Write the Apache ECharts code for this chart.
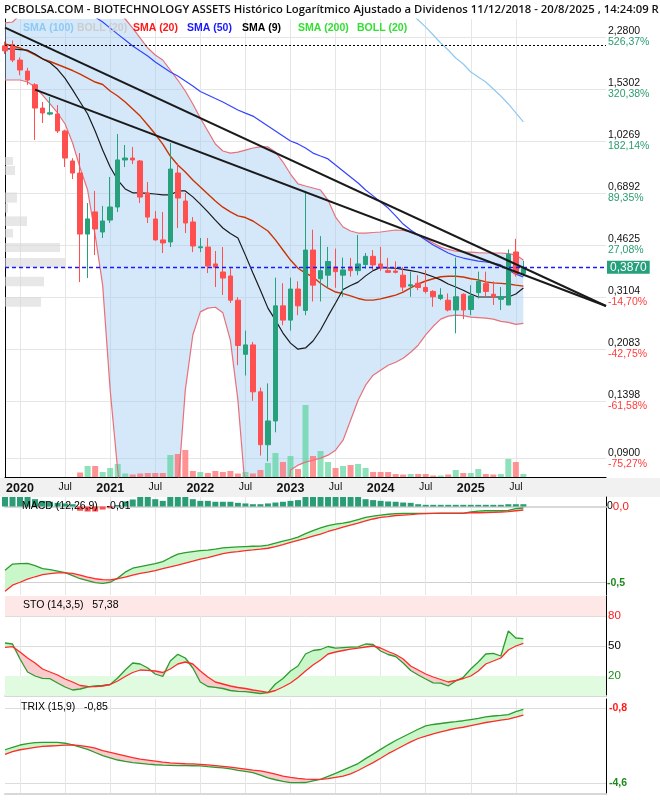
<!DOCTYPE html>
<html>
<head>
<meta charset="utf-8">
<script src="https://cdn.jsdelivr.net/npm/echarts@6.0.0/dist/echarts.min.js"></script>
<style>
html,body{margin:0;padding:0;background:#ffffff;}
#chart{width:660px;height:800px;}
</style>
</head>
<body>
<div id="chart"></div>
<script>
// ---------- categories (monthly) ----------
const months = [];
(function () { let y = 2019, m = 11; while (months.length < 81) { months.push(y + '-' + (m < 10 ? '0' : '') + m); m++; if (m > 12) { m = 1; y++; } } })();
const lastDataIndex = 69;

// ---------- price axis ticks ----------
const priceTicks = [2.28, 1.5302, 1.0269, 0.6892, 0.4625, 0.3104, 0.2083, 0.1398, 0.09];
const priceTickLabels = ['2,2800', '1,5302', '1,0269', '0,6892', '0,4625', '0,3104', '0,2083', '0,1398', '0,0900'];
const pctTickLabels = ['526,37%', '320,38%', '182,14%', '89,35%', '27,08%', '-14,70%', '-42,75%', '-61,58%', '-75,27%'];
const lastPrice = 0.387, lastPriceLabel = '0,3870';
const refLevel = 2.136;

// ---------- candles (2019-11 .. 2025-08) ----------
const open = [2.13, 2.15, 1.91, 1.755, 1.58, 1.322, 1.262, 1.263, 1.109, 0.881,
  0.803, 0.503, 0.596, 0.511, 0.56, 0.619, 0.888, 0.901, 0.881, 0.689,
  0.5646, 0.481, 0.4733, 0.803, 0.648, 0.5517, 0.453, 0.4554, 0.40, 0.376,
  0.3647, 0.303, 0.20, 0.215, 0.15, 0.10, 0.12, 0.29, 0.26, 0.33,
  0.28, 0.445, 0.357, 0.367, 0.391, 0.367, 0.391, 0.380, 0.398, 0.424,
  0.400, 0.380, 0.379, 0.367, 0.338, 0.345, 0.334, 0.324, 0.307, 0.303,
  0.281, 0.317, 0.282, 0.321, 0.344, 0.317, 0.305, 0.292, 0.4385, 0.372];
const close = [2.05, 1.91, 1.77, 1.639, 1.322, 1.273, 1.275, 1.109, 0.901, 0.803,
  0.503, 0.565, 0.523, 0.556, 0.619, 0.888, 0.901, 0.888, 0.668, 0.573,
  0.481, 0.470, 0.828, 0.663, 0.5475, 0.459, 0.456, 0.3936, 0.39, 0.359,
  0.303, 0.214, 0.215, 0.15, 0.10, 0.12, 0.29, 0.26, 0.33, 0.29,
  0.445, 0.34, 0.38, 0.4075, 0.377, 0.382, 0.380, 0.400, 0.424, 0.397,
  0.387, 0.375, 0.375, 0.335, 0.341, 0.334, 0.324, 0.311, 0.315, 0.281,
  0.311, 0.281, 0.313, 0.350, 0.324, 0.311, 0.311, 0.431, 0.3705, 0.387];
const low = [2.0, 1.88, 1.70, 1.58, 1.035, 1.179, 1.25, 1.092, 0.841, 0.767,
  0.348, 0.359, 0.428, 0.488, 0.5475, 0.596, 0.841, 0.861, 0.638, 0.5475,
  0.478, 0.435, 0.4554, 0.527, 0.507, 0.438, 0.438, 0.373, 0.335, 0.3152,
  0.2965, 0.184, 0.17, 0.14, 0.092, 0.088, 0.11, 0.25, 0.24, 0.27,
  0.27, 0.30, 0.30, 0.333, 0.333, 0.311, 0.363, 0.367, 0.386, 0.382,
  0.379, 0.373, 0.372, 0.324, 0.311, 0.327, 0.319, 0.288, 0.303, 0.278,
  0.235, 0.262, 0.270, 0.307, 0.311, 0.292, 0.281, 0.292, 0.363, 0.365];
const high = [2.2, 2.22, 1.95, 1.80, 1.60, 1.385, 1.439, 1.353, 1.12, 0.90,
  0.936, 0.638, 0.700, 0.624, 0.779, 1.083, 0.996, 0.981, 0.888, 0.750,
  0.600, 0.596, 1.011, 0.867, 0.689, 0.573, 0.488, 0.488, 0.4417, 0.4554,
  0.387, 0.31, 0.24, 0.22, 0.155, 0.16, 0.36, 0.345, 0.36, 0.35,
  0.70, 0.52, 0.495, 0.456, 0.45, 0.42, 0.419, 0.499, 0.435, 0.445,
  0.456, 0.419, 0.408, 0.391, 0.377, 0.367, 0.382, 0.327, 0.332, 0.319,
  0.42, 0.319, 0.340, 0.377, 0.377, 0.35, 0.335, 0.447, 0.485, 0.41];
const volume = [null, null, null, null, null, null, null, null, null, null,
  4.5, 11, 11, 5, 9, 13, 3.5, 2.5, 3.5, 4,
  4, 4, 22, 23, 27, 6, 5, 4, 6, 5,
  6, 3.5, 5, 3.5, 7, 14, 24, 15, 21, 8,
  72, 21, 26, 15, 9, 11, 12, 13, 9, 5,
  5, 5, 3, 2.5, 3, 3, 3, 1.5, 1.5, 2.5,
  7, 4, 4, 8, 3, 2.5, 3, 18, 15, 3];

// ---------- overlays ----------
const sma9 = [2.08, 2.08, 2.07, 2.06, 2.00, 1.93, 1.87, 1.78, 1.66, 1.52,
  1.385, 1.263, 1.109, 0.958, 0.841, 0.761, 0.711, 0.690, 0.690, 0.687,
  0.684, 0.679, 0.679, 0.700, 0.700, 0.669, 0.633, 0.596, 0.560, 0.527,
  0.505, 0.488, 0.428, 0.373, 0.327, 0.285, 0.260, 0.2355, 0.218, 0.208,
  0.210, 0.2215, 0.241, 0.268, 0.2965, 0.329, 0.339, 0.348, 0.365, 0.380,
  0.3895, 0.388, 0.387, 0.3835, 0.380, 0.376, 0.370, 0.3625, 0.354, 0.343,
  0.335, 0.327, 0.3175, 0.3104, 0.3104, 0.3104, 0.3104, 0.3104, 0.3175, 0.3326];
const sma20 = [2.16, 2.127, 2.096, 2.047, 1.986, 1.926, 1.889, 1.846, 1.804, 1.763,
  1.716, 1.664, 1.614, 1.584, 1.507, 1.450, 1.385, 1.312, 1.243, 1.161,
  1.083, 1.003, 0.915, 0.854, 0.810, 0.761, 0.722, 0.684, 0.648, 0.618,
  0.596, 0.578, 0.571, 0.556, 0.535, 0.515, 0.481, 0.445, 0.412, 0.387,
  0.373, 0.362, 0.345, 0.332, 0.3225, 0.3185, 0.313, 0.307, 0.303, 0.303,
  0.306, 0.3104, 0.315, 0.3225, 0.333, 0.343, 0.351, 0.357, 0.3625, 0.364,
  0.364, 0.362, 0.357, 0.354, 0.3485, 0.346, 0.3445, 0.343, 0.340, 0.3375];
const sma50 = [4.62, 4.41, 4.21, 4.02, 3.84, 3.67, 3.50, 3.35, 3.19, 3.05,
  2.914, 2.78, 2.657, 2.556, 2.44, 2.33, 2.228, 2.128, 2.047, 1.970,
  1.882, 1.811, 1.743, 1.690, 1.626, 1.565, 1.500, 1.461, 1.422, 1.385,
  1.343, 1.302, 1.272, 1.243, 1.197, 1.152, 1.109, 1.067, 1.027, 1.004,
  0.973, 0.936, 0.915, 0.895, 0.854, 0.816, 0.779, 0.744, 0.705, 0.674,
  0.643, 0.614, 0.578, 0.543, 0.519, 0.499, 0.481, 0.4625, 0.4485, 0.435,
  0.425, 0.4185, 0.4136, 0.409, 0.406, 0.403, 0.397, 0.382, 0.370, 0.362];
const sma100 = [null, null, null, null, null, null, null, null, null, null,
  null, null, null, null, null, null, null, null, null, null,
  null, null, null, null, null, null, null, null, null, null,
  null, null, null, null, null, null, null, null, null, null,
  null, null, null, null, null, null, null, null, null, null,
  null, null, null, 2.89, 2.74, 2.597, 2.46, 2.315, 2.177, 2.063,
  1.94, 1.853, 1.743, 1.677, 1.614, 1.53, 1.45, 1.364, 1.273, 1.188];
const bbUpper = [2.54, 2.557, 2.70, 2.80, 2.91, 3.03, 3.15, 3.22, 3.27, 3.27,
  3.22, 3.15, 3.08, 2.98, 2.89, 2.76, 2.617, 2.44, 2.26, 2.095,
  1.986, 1.911, 1.770, 1.639, 1.507, 1.364, 1.225, 1.109, 1.003, 0.951,
  0.936, 0.943, 0.958, 0.973, 0.981, 0.981, 0.943, 0.874, 0.797, 0.739,
  0.727, 0.716, 0.705, 0.653, 0.573, 0.531, 0.515, 0.507, 0.507, 0.509,
  0.511, 0.515, 0.519, 0.517, 0.511, 0.499, 0.485, 0.470, 0.455, 0.447,
  0.441, 0.439, 0.438, 0.436, 0.435, 0.435, 0.435, 0.433, 0.428, 0.412];
const bbLower = [1.639, 1.639, 1.639, 1.614, 1.554, 1.461, 1.364, 1.273, 1.170, 1.011,
  0.835, 0.705, 0.499, 0.340, 0.152, 0.0823, 0.052, 0.04, 0.035, 0.03,
  0.03, 0.035, 0.045, 0.07, 0.152, 0.232, 0.277, 0.285, 0.287, 0.275,
  0.223, 0.141, 0.07, 0.04, 0.03, 0.025, 0.03, 0.04, 0.0823, 0.0855,
  0.0875, 0.0888, 0.0902, 0.0923, 0.0959, 0.1035, 0.1207, 0.1407, 0.1578, 0.1704,
  0.1771, 0.184, 0.1883, 0.194, 0.2033, 0.2145, 0.232, 0.248, 0.262, 0.268,
  0.270, 0.269, 0.266, 0.265, 0.264, 0.262, 0.2575, 0.2555, 0.2515, 0.2535];

// trend lines: [start month, start price, end month, end price]
const trendLines = [['2019-11', 2.45, '2026-07', 0.2897], ['2020-03', 1.523, '2026-07', 0.2897]];

// volume at price (left profile)
const vpLow = [0.854, 0.791, 0.640, 0.593, 0.535, 0.490, 0.438, 0.389, 0.337, 0.288];
const vpHigh = [0.908, 0.848, 0.692, 0.636, 0.576, 0.523, 0.470, 0.419, 0.3625, 0.3104];
const vpVol = [8, 10, 12, 3, 22, 8, 55, 60, 39, 36];

// ---------- MACD ----------
const macd = [-0.418, -0.378, -0.375, -0.374, -0.388, -0.407, -0.414, -0.424, -0.434, -0.454,
  -0.474, -0.487, -0.500, -0.505, -0.497, -0.470, -0.431, -0.405, -0.395, -0.385,
  -0.375, -0.362, -0.336, -0.313, -0.303, -0.296, -0.289, -0.286, -0.280, -0.271,
  -0.268, -0.265, -0.263, -0.261, -0.260, -0.253, -0.240, -0.227, -0.216, -0.201,
  -0.178, -0.158, -0.141, -0.125, -0.115, -0.109, -0.100, -0.086, -0.072, -0.063,
  -0.056, -0.051, -0.047, -0.045, -0.045, -0.045, -0.045, -0.045, -0.045, -0.045,
  -0.045, -0.045, -0.036, -0.030, -0.028, -0.028, -0.028, -0.026, -0.014, -0.010];
const macdSignal = [-0.556, -0.516, -0.497, -0.477, -0.461, -0.447, -0.441, -0.436, -0.436, -0.439,
  -0.451, -0.464, -0.474, -0.480, -0.482, -0.474, -0.464, -0.451, -0.439, -0.431,
  -0.421, -0.408, -0.396, -0.385, -0.372, -0.359, -0.345, -0.336, -0.322, -0.309,
  -0.301, -0.296, -0.289, -0.285, -0.280, -0.274, -0.263, -0.250, -0.235, -0.222,
  -0.209, -0.194, -0.181, -0.164, -0.150, -0.135, -0.122, -0.109, -0.095, -0.082,
  -0.072, -0.066, -0.059, -0.056, -0.053, -0.049, -0.047, -0.045, -0.044, -0.043,
  -0.043, -0.043, -0.041, -0.041, -0.040, -0.038, -0.036, -0.033, -0.028, -0.023];
const macdHist = [0.1, 0.1, 0.1, 0.09, 0.048, 0.037, 0.031, 0.024, 0.02, 0.015,
  -0.028, -0.033, -0.033, -0.02, -0.012, 0.01, 0.033, 0.046, 0.07, 0.07,
  0.048, 0.037, 0.07, 0.07, 0.07, 0.048, 0.037, 0.037, 0.031, 0.031,
  0.031, 0.024, 0.02, 0.015, 0.015, 0.02, 0.026, 0.031, 0.037, 0.042,
  0.07, 0.07, 0.07, 0.07, 0.07, 0.07, 0.07, 0.07, 0.048, 0.042,
  0.037, 0.033, 0.031, 0.026, 0.024, 0.015, 0.011, 0.011, 0.011, 0.011,
  0.011, 0.011, 0.011, 0.011, 0.011, 0.011, 0.011, 0.015, 0.015, 0.015];

// ---------- Stochastic ----------
const stoK = [53, 52, 37, 24, 20, 17.7, 17.3, 13, 9, 6,
  7, 9, 10, 10.5, 11.5, 18, 26, 33, 32, 28,
  22, 19.5, 35, 41.7, 38, 28, 14, 9.5, 8.7, 7.5,
  5.5, 4.7, 4.3, 3.5, 2.5, 3.3, 12, 17.5, 25, 30,
  42, 45.5, 46.5, 49.5, 47.8, 48.3, 48.8, 49.2, 52, 51.5,
  45, 41.5, 39.5, 33, 25.5, 21, 17, 13.2, 12.8, 10,
  15, 18.7, 27, 34, 42, 42.7, 40, 65, 58, 57.38];
const stoD = [48.7, 49.3, 44, 38, 33, 27, 24, 21, 17, 14,
  10.5, 9.6, 9.4, 10, 11.5, 15, 19.5, 23.5, 26, 25.7,
  25, 23.5, 27, 32, 34, 32, 25, 19, 14, 12,
  10, 8.5, 7.5, 6, 4.8, 3.5, 5.5, 9, 13, 18.5,
  25, 31, 36, 42, 44, 45.5, 46.8, 47.8, 49, 50,
  48, 44.5, 41.5, 37, 30, 26, 22, 19, 16.5, 14,
  15.5, 17.5, 20, 25, 32, 35, 38, 46, 50, 52.7];

// ---------- TRIX ----------
const trix = [-2.90, -2.78, -2.66, -2.59, -2.54, -2.53, -2.53, -2.53, -2.57, -2.65,
  -2.77, -2.88, -3.04, -3.20, -3.31, -3.42, -3.49, -3.55, -3.59, -3.63,
  -3.66, -3.68, -3.69, -3.70, -3.70, -3.71, -3.72, -3.76, -3.79, -3.82,
  -3.87, -3.94, -4.00, -4.06, -4.19, -4.32, -4.42, -4.50, -4.57, -4.57,
  -4.56, -4.48, -4.40, -4.25, -4.10, -3.93, -3.77, -3.60, -3.35, -3.12,
  -2.88, -2.65, -2.43, -2.24, -2.05, -1.86, -1.69, -1.62, -1.57, -1.52,
  -1.48, -1.43, -1.37, -1.31, -1.23, -1.19, -1.16, -1.12, -0.97, -0.85];
const trixSignal = [-3.13, -3.00, -2.90, -2.84, -2.78, -2.73, -2.71, -2.69, -2.67, -2.66,
  -2.69, -2.74, -2.82, -2.95, -3.03, -3.12, -3.21, -3.30, -3.38, -3.43,
  -3.48, -3.53, -3.57, -3.59, -3.61, -3.62, -3.64, -3.67, -3.70, -3.74,
  -3.78, -3.83, -3.88, -3.93, -3.97, -4.05, -4.14, -4.24, -4.30, -4.35,
  -4.39, -4.40, -4.40, -4.36, -4.30, -4.24, -4.12, -3.95, -3.75, -3.55,
  -3.33, -3.10, -2.90, -2.70, -2.50, -2.33, -2.21, -2.10, -2.00, -1.90,
  -1.82, -1.76, -1.68, -1.60, -1.52, -1.46, -1.40, -1.35, -1.25, -1.14];

// ---------- styling ----------
const FONT = 'Liberation Sans, Arial, sans-serif';
const UP = '#26a17b', DOWN = '#ff4f4f';
const GRIDC = '#e6e6e6';
const LGREEN = '#2f9a2f', LRED = '#ff2a2a';
const FILLG = '#c9f7c9', FILLR = '#f8cccc';

const isMajor = (index, value) => index <= lastDataIndex && (value.slice(5) === '01' || value.slice(5) === '07');

function catAxis(gridIndex, labels) {
  return {
    type: 'category', gridIndex: gridIndex, data: months, boundaryGap: false,
    axisTick: { show: false },
    axisLine: labels ? { show: true, lineStyle: { color: '#000', width: 1 } } : { show: true, lineStyle: { color: '#d8d8d8', width: 2 } },
    axisLabel: labels ? {
      show: true, interval: isMajor, margin: 5, fontFamily: FONT,
      formatter: v => v.slice(5) === '01' ? '{y|' + v.slice(0, 4) + '}' : '{m|Jul}',
      rich: { y: { fontSize: 12.5, fontWeight: 'bold', color: '#111', fontFamily: FONT }, m: { fontSize: 10.5, color: '#111', fontFamily: FONT } }
    } : { show: false },
    splitLine: { show: true, interval: isMajor, lineStyle: { color: GRIDC, width: 1 } }
  };
}

function fillBetween(a, b, xi, yi, id) {
  const common = { type: 'line', xAxisIndex: xi, yAxisIndex: yi, stack: id, stackStrategy: 'all', symbol: 'none', silent: true, lineStyle: { width: 0, opacity: 0 }, z: 1 };
  return [
    Object.assign({}, common, { data: a.map((v, i) => Math.min(v, b[i])) }),
    Object.assign({}, common, { data: a.map((v, i) => Math.max(v - b[i], 0)), areaStyle: { color: FILLG, opacity: 1 } }),
    Object.assign({}, common, { data: a.map((v, i) => Math.max(b[i] - v, 0)), areaStyle: { color: FILLR, opacity: 1 } })
  ];
}
function plainLine(data, xi, yi, color, width, z) {
  return { type: 'line', xAxisIndex: xi, yAxisIndex: yi, data: data, symbol: 'none', silent: true, lineStyle: { color: color, width: width }, z: z || 3, connectNulls: false };
}

const candleData = open.map((o, i) => [o, close[i], low[i], high[i]]);
const volData = volume.map((v, i) => v == null ? null : { value: v, itemStyle: { color: close[i] >= open[i] ? 'rgba(80,210,150,0.65)' : 'rgba(255,110,110,0.75)' } });

const chart = echarts.init(document.getElementById('chart'), null, { renderer: 'canvas' });
const option = {
  animation: false,
  backgroundColor: '#ffffff',
  textStyle: { fontFamily: FONT },
  title: [
    { text: 'PCBOLSA.COM - BIOTECHNOLOGY ASSETS Histórico Logarítmico Ajustado a Dividenos 11/12/2018 - 20/8/2025 , 14:24:09 R', left: 4, top: 4, padding: 0,
      textStyle: { fontFamily: 'Open Sans', fontWeight: 600, fontSize: 11.3, color: '#111111' } },
    { text: '{a|SMA (100)}{b|BOLL (20)}{c|SMA (20)}{d|SMA (50)}{e|SMA (9)}{f|SMA (200)}{g|BOLL (20)}', left: 23, top: 23, padding: 0,
      textStyle: { fontSize: 10.5, fontFamily: FONT, rich: {
        a: { color: '#8ec9f3', width: 54, fontSize: 10.5, fontFamily: FONT },
        b: { color: '#cccccc', width: 56, fontSize: 10.5, fontFamily: FONT },
        c: { color: '#ff1a1a', width: 54, fontSize: 10.5, fontFamily: FONT },
        d: { color: '#1a1aff', width: 55, fontSize: 10.5, fontFamily: FONT },
        e: { color: '#000000', width: 56, fontSize: 10.5, fontFamily: FONT },
        f: { color: '#33e033', width: 59, fontSize: 10.5, fontFamily: FONT },
        g: { color: '#33e033', fontSize: 10.5, fontFamily: FONT } } } },
    { text: 'MACD (12,26,9)   -0,01', left: 22, top: 501, padding: 0, textStyle: { fontSize: 10.5, fontWeight: 'normal', color: '#000', fontFamily: FONT } },
    { text: 'STO (14,3,5)   57,38', left: 23, top: 600, padding: 0, textStyle: { fontSize: 10.5, fontWeight: 'normal', color: '#000', fontFamily: FONT } },
    { text: 'TRIX (15,9)   -0,85', left: 21, top: 702, padding: 0, textStyle: { fontSize: 10.5, fontWeight: 'normal', color: '#000', fontFamily: FONT } }
  ],
  graphic: [
    { type: 'rect', z: -10, silent: true, shape: { x: 0, y: 478, width: 660, height: 19 }, style: { fill: '#f1f1f1' } }
  ],
  grid: [
    { left: 5, right: 54, top: 19, height: 458 },
    { left: 5, right: 54, top: 497, height: 98 },
    { left: 5, right: 54, top: 596, height: 100 },
    { left: 5, right: 54, top: 699, height: 95 }
  ],
  xAxis: [
    catAxis(0, true),
    { type: 'value', gridIndex: 0, min: 0, max: 601, show: false },
    catAxis(1, false),
    catAxis(2, false),
    catAxis(3, false)
  ],
  yAxis: [
    { type: 'log', gridIndex: 0, position: 'right', logBase: 10, min: 0.07807, max: 2.617,
      axisLine: { show: true, lineStyle: { color: '#000' } },
      axisTick: { show: false, customValues: priceTicks },
      splitLine: { show: true, lineStyle: { color: GRIDC } },
      axisLabel: { customValues: priceTicks, margin: 2, fontFamily: FONT,
        formatter: function (v) {
          let i = 0, best = 1e9;
          priceTicks.forEach((t, j) => { const d = Math.abs(Math.log(t / v)); if (d < best) { best = d; i = j; } });
          const neg = pctTickLabels[i].charAt(0) === '-';
          return '{p|' + priceTickLabels[i] + '}\n{' + (neg ? 'n' : 'g') + '|' + pctTickLabels[i] + '}';
        },
        rich: { p: { color: '#111', fontSize: 10.5, lineHeight: 11, fontFamily: FONT },
                g: { color: '#2a9d6e', fontSize: 10.5, lineHeight: 11, fontFamily: FONT },
                n: { color: '#ff3b3b', fontSize: 10.5, lineHeight: 11, fontFamily: FONT } } } },
    { type: 'value', gridIndex: 0, min: 0, max: 458, show: false },
    { type: 'value', gridIndex: 1, position: 'right', min: -0.5807, max: 0.0623,
      axisLine: { show: true, lineStyle: { color: '#000' } },
      axisTick: { show: false, customValues: [0, -0.5] },
      splitLine: { show: true, lineStyle: { color: '#d0d0d0' } },
      axisLabel: { customValues: [0, -0.5], margin: 1, fontFamily: FONT,
        formatter: v => Math.abs(v) < 1e-9 ? '{k|0}{r|0,0}' : '{gg|-0,5}',
        rich: { k: { color: '#000', fontSize: 10.5, fontFamily: FONT }, r: { color: '#ff1a1a', fontSize: 11.5, fontFamily: FONT }, gg: { color: '#1d8a1d', fontSize: 10.5, fontWeight: 'bold', fontFamily: FONT } } } },
    { type: 'value', gridIndex: 2, position: 'right', min: 0, max: 100,
      axisLine: { show: true, lineStyle: { color: '#000' } },
      axisTick: { show: false, customValues: [20, 50, 80] },
      splitLine: { show: true, lineStyle: { color: '#dcdcdc' } },
      axisLabel: { customValues: [20, 50, 80], margin: 2, fontFamily: FONT,
        formatter: v => v === 80 ? '{r|80}' : (v === 20 ? '{gg|20}' : '{k|50}'),
        rich: { r: { color: '#ff1a1a', fontSize: 11.5, fontFamily: FONT }, gg: { color: '#1d8a1d', fontSize: 11.5, fontFamily: FONT }, k: { color: '#000', fontSize: 11.5, fontFamily: FONT } } } },
    { type: 'value', gridIndex: 3, position: 'right', min: -5.142, max: -0.329,
      axisLine: { show: true, lineStyle: { color: '#000' } },
      axisTick: { show: false, customValues: [-0.8, -4.6] },
      splitLine: { show: true, lineStyle: { color: '#dcdcdc' } },
      axisLabel: { customValues: [-0.8, -4.6], margin: 3, fontFamily: FONT,
        formatter: v => v > -1 ? '{r|-0,8}' : '{gg|-4,6}',
        rich: { r: { color: '#ff1a1a', fontSize: 10.5, fontWeight: 'bold', fontFamily: FONT }, gg: { color: '#1d8a1d', fontSize: 10.5, fontWeight: 'bold', fontFamily: FONT } } } }
  ],
  series: [
    // volume profile
    { type: 'custom', xAxisIndex: 1, yAxisIndex: 0, silent: true, z: 1, clip: true,
      encode: { x: 0, y: [1, 2] },
      data: vpVol.map((v, i) => [v, vpLow[i], vpHigh[i]]),
      renderItem: function (params, api) {
        const p0 = api.coord([0, api.value(2)]);
        const p1 = api.coord([api.value(0), api.value(1)]);
        return { type: 'rect', shape: { x: p0[0], y: p0[1], width: p1[0] - p0[0], height: p1[1] - p0[1] }, style: { fill: 'rgba(215,215,215,0.6)' } };
      } },
    // bollinger band fill
    { type: 'line', xAxisIndex: 0, yAxisIndex: 0, data: bbLower, stack: 'bb', stackStrategy: 'all', symbol: 'none', silent: true, lineStyle: { color: '#e8707a', width: 1.2 }, z: 3 },
    { type: 'line', xAxisIndex: 0, yAxisIndex: 0, data: bbUpper.map((u, i) => u - bbLower[i]), stack: 'bb', stackStrategy: 'all', symbol: 'none', silent: true, lineStyle: { width: 0, opacity: 0 }, areaStyle: { color: 'rgba(160,205,245,0.45)', opacity: 1 }, z: 1 },
    plainLine(bbUpper, 0, 0, '#e8707a', 1.2, 3),
    // volume
    { type: 'bar', xAxisIndex: 0, yAxisIndex: 1, data: volData, barWidth: 6, silent: true, z: 2 },
    // moving averages
    plainLine(sma100, 0, 0, '#90c9f0', 1.2, 3),
    plainLine(sma20, 0, 0, '#cc3300', 1.4, 3),
    plainLine(sma50, 0, 0, '#3344ff', 1.2, 3),
    plainLine(sma9, 0, 0, '#1a1a1a', 1.2, 3),
    // candles
    { type: 'candlestick', xAxisIndex: 0, yAxisIndex: 0, data: candleData, barWidth: 5, silent: true, z: 5,
      itemStyle: { color: UP, color0: DOWN, borderColor: UP, borderColor0: DOWN, borderWidth: 1 },
      markLine: { symbol: 'none', silent: true, animation: false, z: 6,
        data: [
          { yAxis: lastPrice, lineStyle: { color: '#1a1aff', type: [4, 3], width: 1.3, opacity: 1 },
            label: { show: true, position: 'end', distance: 1, formatter: lastPriceLabel, backgroundColor: '#26a17b', color: '#fff', fontSize: 12, padding: [1, 3, 0, 3], fontFamily: FONT } },
          { yAxis: refLevel, lineStyle: { color: '#000', type: [2, 2], width: 1 }, label: { show: false } },
          [{ coord: [trendLines[0][0], trendLines[0][1]], lineStyle: { color: '#1a1a1a', width: 2, type: 'solid' }, label: { show: false } }, { coord: [trendLines[0][2], trendLines[0][3]] }],
          [{ coord: [trendLines[1][0], trendLines[1][1]], lineStyle: { color: '#1a1a1a', width: 2, type: 'solid' }, label: { show: false } }, { coord: [trendLines[1][2], trendLines[1][3]] }]
        ] } },

    // MACD
    { type: 'bar', xAxisIndex: 2, yAxisIndex: 2, data: macdHist.map(v => ({ value: v, itemStyle: { color: v < 0 ? DOWN : '#2a9d74' } })), barWidth: 6, silent: true, z: 2 },
    ...fillBetween(macd, macdSignal, 2, 2, 'macdfill'),
    plainLine(macd, 2, 2, LGREEN, 1.3, 4),
    plainLine(macdSignal, 2, 2, LRED, 1.3, 4),

    // STO
    { type: 'line', xAxisIndex: 3, yAxisIndex: 3, data: [], silent: true, z: 0,
      markArea: { silent: true, data: [
        [{ yAxis: 80, itemStyle: { color: '#fde7e7' } }, { yAxis: 100 }],
        [{ yAxis: 0, itemStyle: { color: '#e0fbe0' } }, { yAxis: 20 }]
      ] } },
    ...fillBetween(stoK, stoD, 3, 3, 'stofill'),
    Object.assign(plainLine(stoK, 3, 3, LGREEN, 1.3, 4), {
      markLine: { symbol: 'none', silent: true, data: [{ yAxis: 57.381, lineStyle: { opacity: 0 },
        label: { show: true, position: 'end', distance: 1, formatter: '57,381', backgroundColor: '#000', color: '#fff', fontSize: 12, padding: [1, 3, 0, 2], fontFamily: FONT } }] } }),
    plainLine(stoD, 3, 3, LRED, 1.3, 4),

    // TRIX
    ...fillBetween(trix, trixSignal, 4, 4, 'trixfill'),
    plainLine(trix, 4, 4, LGREEN, 1.3, 4),
    plainLine(trixSignal, 4, 4, LRED, 1.3, 4)
  ]
};
chart.setOption(option);
</script>
</body>
</html>
